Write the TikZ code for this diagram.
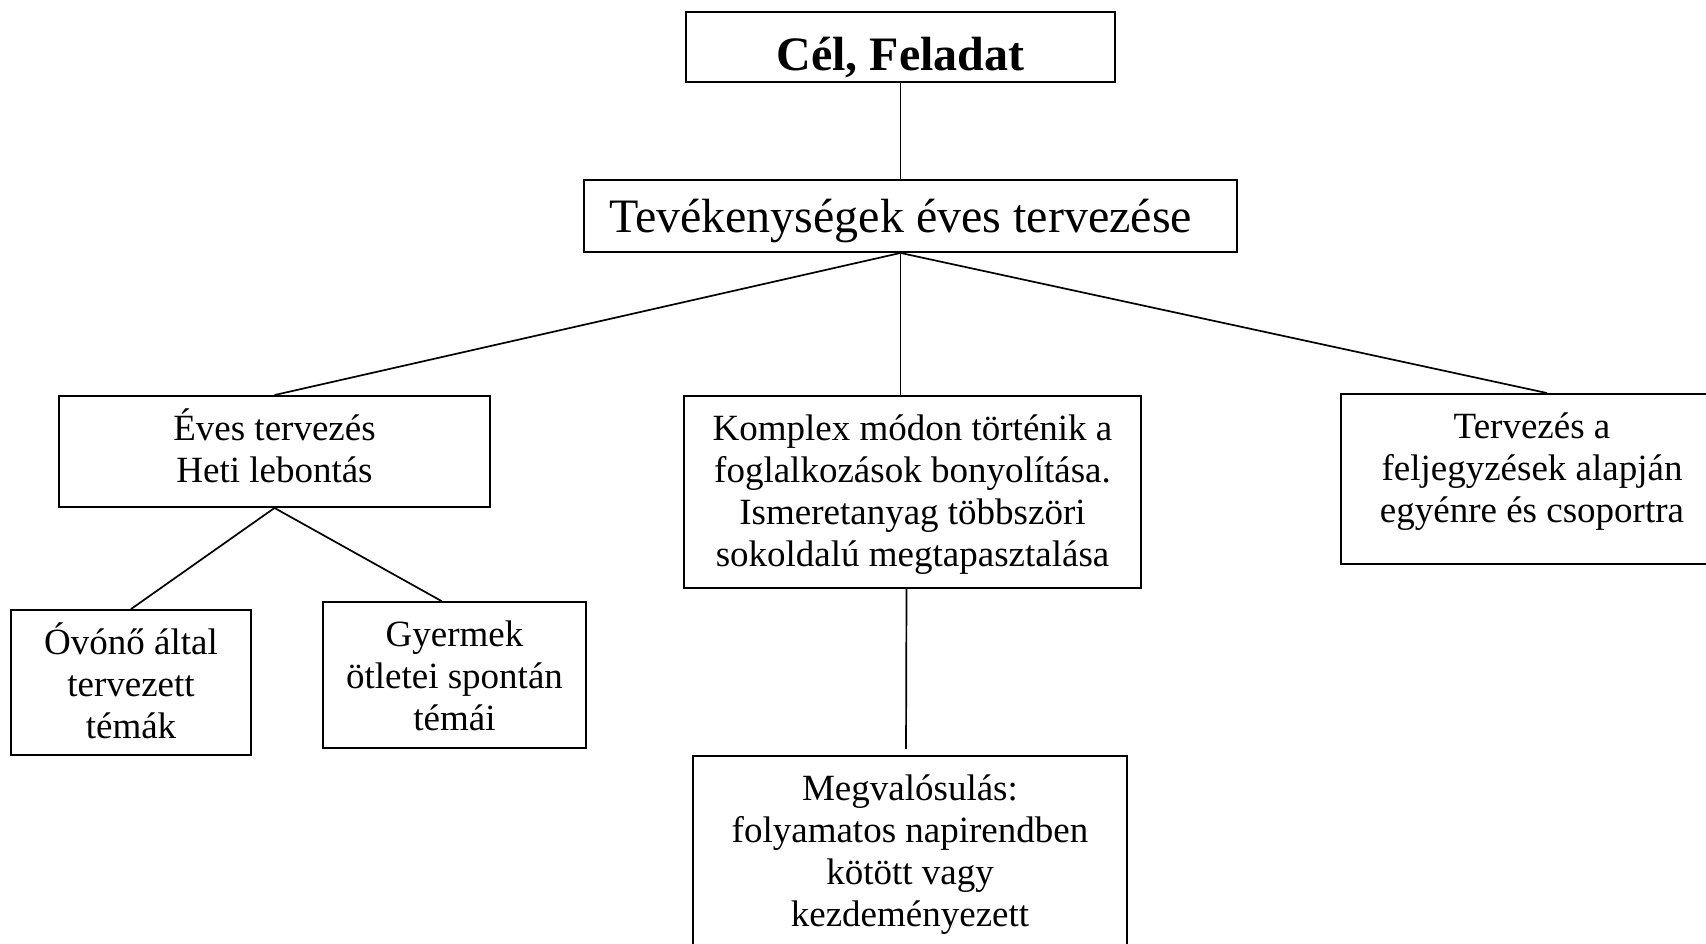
\documentclass[tikz,border=0pt]{standalone}
\usepackage{fontspec}
\setmainfont{Liberation Serif}
\usepackage{tikz}
\usetikzlibrary{positioning,calc}
\tikzstyle{box} = [draw, line width=1.9pt, align=center, inner sep=0pt, font=\fontsize{37}{42}\selectfont]
\tikzstyle{link} = [draw, line width=1.7pt]
% text set from the top of a box of given width and height
\newcommand{\boxtext}[3]{\parbox[c][#2][t]{#1}{\centering\rule{0pt}{44pt}#3}}

\begin{document}
\begin{tikzpicture}[x=1pt,y=-1pt]
    \useasboundingbox (0,0) rectangle (1706,943);
    \node[box,minimum width=429pt,minimum height=70pt,text height=46pt,text depth=0pt,font=\fontsize{48}{55}\selectfont\bfseries] (cel) at (900.5,47) {Cél, Feladat};
    \node[box,minimum width=653pt,minimum height=72pt,text height=35pt,text depth=3pt,font=\fontsize{48}{55}\selectfont] (tev) at (910.5,216) {Tevékenységek éves tervezése\hspace{20pt}};
    \node[box] (eves) at (274.5,451.5) {\boxtext{431pt}{111pt}{Éves tervezés\\Heti lebontás}};
    \node[box] (ovono) at (131,682.5) {\boxtext{240pt}{145pt}{Óvónő által\\tervezett\\témák}};
    \node[box] (gyer) at (454.5,675) {\boxtext{263pt}{146pt}{Gyermek\\ötletei spontán\\témái}};
    \node[box] (komplex) at (912.5,492) {\boxtext{457pt}{192pt}{Komplex módon történik a\\foglalkozások bonyolítása.\\Ismeretanyag többszöri\\sokoldalú megtapasztalása}};
    \node[box] (terv) at (1532,479) {\boxtext{382pt}{170pt}{Tervezés a\\feljegyzések alapján\\egyénre és csoportra}};
    \node[box] (megv) at (910,853) {\boxtext{434pt}{194pt}{Megvalósulás:\\folyamatos napirendben\\kötött vagy\\kezdeményezett}};
    % connectors
    \draw[link] (cel.south) -- (tev.north -| cel.south);
    \draw[link] (tev.south -| cel.south) -- (eves.north);
    \draw[link] (tev.south -| cel.south) -- (komplex.north -| cel.south);
    \draw[link] (tev.south -| cel.south) -- ([xshift=15pt]terv.north);
    \draw[link] (eves.south) -- (ovono.north);
    \draw[link] (eves.south) -- ([xshift=-13pt]gyer.north);
    \draw[link,shorten >=6pt] ([xshift=-6pt]komplex.south) -- ([xshift=-4pt]megv.north);
\end{tikzpicture}
\end{document}
